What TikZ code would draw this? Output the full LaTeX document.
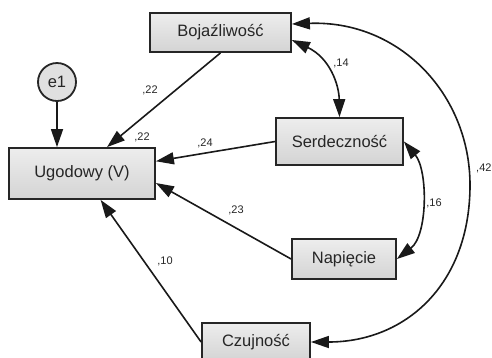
\documentclass[tikz,border=0pt]{standalone}
\usepackage{fontspec}
\setmainfont{Liberation Sans}
\usetikzlibrary{arrows.meta,calc}
\tikzset{
  var/.style={draw=black!85, line width=1.8pt, top color=black!7, bottom color=black!17,
    inner sep=0pt, text=black!85, font=\fontsize{16.5}{18}\selectfont},
  err/.style={circle, draw=black!85, line width=1.8pt, fill=black!12, minimum size=38pt,
    inner sep=0pt, text=black!85, font=\fontsize{16.5}{18}\selectfont},
  reg/.style={line width=1.6pt, draw=black!90, -{Triangle[length=18pt,width=12pt]}},
  cov/.style={line width=1.6pt, draw=black!90, {Triangle[length=18pt,width=12pt]}-{Triangle[length=18pt,width=12pt]}},
  coef/.style={inner sep=0pt, text=black!85, font=\fontsize{11}{12}\selectfont}
}
\begin{document}
\begin{tikzpicture}[x=1pt, y=-1pt]
\useasboundingbox (0,0) rectangle (492,357);
\clip (0,0) rectangle (492,357);

% variables
\node[var, minimum width=141pt, minimum height=39pt] (boj) at (220.5,32.5) {Bojaźliwość};
\node[var, minimum width=146pt, minimum height=51pt] (ugo) at (82,173.5) {Ugodowy (V)};
\node[var, minimum width=127pt, minimum height=47pt] (ser) at (339.5,141.5) {Serdeczność};
\node[var, minimum width=104pt, minimum height=40pt] (nap) at (344,259) {Napięcie};
\node[var, minimum width=108pt, minimum height=38pt] (czu) at (256,342) {Czujność};
\node[err] (e1) at (57,82) {e1};

% regression paths
\draw[reg] (e1.south) -- (e1.south |- ugo.north);
\draw[reg] (boj.south) -- ($(ugo.north)+(25,0)$);
\draw[reg] (ser.west) -- (ugo);
\draw[reg] (nap.west) -- ($(ugo.east)+(0,9.5)$);
\draw[reg] (czu.west) -- (ugo);

% covariances
\draw[cov] ($(boj.east)+(0,7.5)$) .. controls (330,58) and (339,85) .. (ser.north);
\draw[cov] (ser.east) .. controls (428,170) and (428,235) .. (nap.east);
\draw[cov] ($(boj.east)+(0,-8.5)$) .. controls (400,20) and (470,95) .. (470,185)
  .. controls (470,285) and (405,342) .. (czu.east);

% coefficients
\node[coef] (c1) at (150,90) {,22};
\node[coef] (c2) at (142,137) {,22};
\node[coef] (c3) at (205,143) {,24};
\node[coef] (c4) at (236,210) {,23};
\node[coef] (c5) at (165,261) {,10};
\node[coef] (c6) at (341,63) {,14};
\node[coef] (c7) at (434,203) {,16};
\node[coef, anchor=west] (c8) at (476,168) {,42};
\end{tikzpicture}
\end{document}
